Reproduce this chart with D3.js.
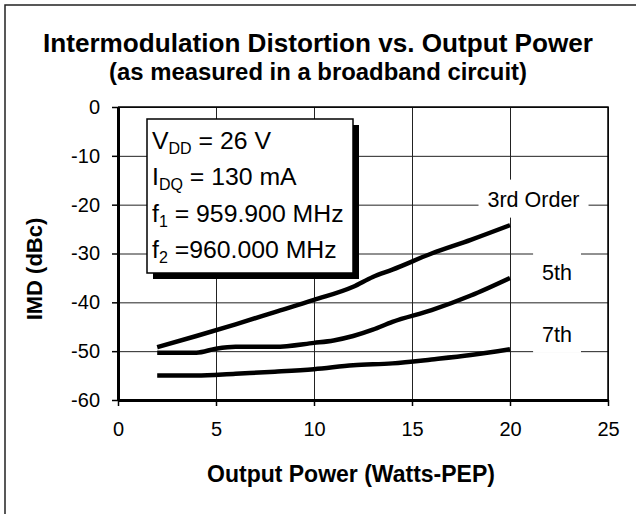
<!DOCTYPE html>
<html>
<head>
<meta charset="utf-8">
<script src="https://cdn.jsdelivr.net/npm/d3@7"></script>
<style>
  body { margin: 0; background: #fff; }
  svg text { font-family: "Liberation Sans", Arial, sans-serif; fill: #000; }
</style>
</head>
<body>
<div class="chart-container"></div>
<script>
//! DATA
const xTicks = [0, 5, 10, 15, 20, 25];
const yTicks = [0, -10, -20, -30, -40, -50, -60];

const thirdPower = [2, 4, 6, 8, 10, 12, 13, 14, 16, 18, 20];
const thirdImd = [-49.2, -46.9, -44.5, -42.0, -39.5, -36.8, -34.8, -33.3, -30.0, -27.2, -24.2];

const fifthPower = [2, 4, 5, 6, 8, 10, 11, 12, 13, 14, 16, 18, 20];
const fifthImd = [-50.3, -50.3, -49.5, -49.1, -49.1, -48.3, -47.8, -46.9, -45.6, -44.0, -41.6, -38.6, -35.0];

const seventhPower = [2, 4, 6, 8, 10, 12, 14, 16, 18, 20];
const seventhImd = [-55.0, -55.0, -54.6, -54.2, -53.7, -52.9, -52.5, -51.7, -50.8, -49.6];

const seriesNames = ['3rd Order', '5th', '7th'];

//! CONSTS
const width = 636;
const height = 514;
const plot = { left: 118, right: 608, top: 107, bottom: 400 };

const svg = d3.select('.chart-container')
  .append('svg')
  .attr('width', width)
  .attr('height', height);

// outer frame (only top + left visible in the picture)
svg.append('path')
  .attr('d', `M5,${height} V5 H${width}`)
  .attr('fill', 'none')
  .attr('stroke', '#222')
  .attr('stroke-width', 1.5);

//! SCALES
const xScale = d3.scaleLinear().domain([0, 25]).range([plot.left, plot.right]);
const yScale = d3.scaleLinear().domain([-60, 0]).range([plot.bottom, plot.top]);

//! GRID
svg.append('g')
  .attr('transform', `translate(0,${plot.bottom})`)
  .call(d3.axisBottom(xScale).tickValues(xTicks).tickSize(-(plot.bottom - plot.top)).tickFormat(''))
  .call(g => g.select('.domain').remove())
  .selectAll('line').attr('stroke', '#222').attr('stroke-width', 1);

svg.append('g')
  .attr('transform', `translate(${plot.left},0)`)
  .call(d3.axisLeft(yScale).tickValues(yTicks).tickSize(-(plot.right - plot.left)).tickFormat(''))
  .call(g => g.select('.domain').remove())
  .selectAll('line').attr('stroke', '#222').attr('stroke-width', 1);

// top + right border of plot area
svg.append('path')
  .attr('d', `M${plot.left},${plot.top} H${plot.right} V${plot.bottom}`)
  .attr('fill', 'none')
  .attr('stroke', '#000')
  .attr('stroke-width', 1.5);

//! AXES
const plainNum = d => String(d); // hyphen minus, like the original

const xAxis = svg.append('g')
  .attr('transform', `translate(0,${plot.bottom})`)
  .call(d3.axisBottom(xScale).tickValues(xTicks).tickFormat(plainNum).tickSize(6).tickSizeOuter(0).tickPadding(16));
xAxis.select('.domain').attr('stroke-width', 3);
xAxis.selectAll('line').attr('stroke-width', 1.5);
xAxis.selectAll('text').attr('font-size', 20).attr('font-family', '"Liberation Sans", Arial, sans-serif');

const yAxis = svg.append('g')
  .attr('transform', `translate(${plot.left},0)`)
  .call(d3.axisLeft(yScale).tickValues(yTicks).tickFormat(plainNum).tickSize(6).tickSizeOuter(0).tickPadding(12));
yAxis.select('.domain').attr('stroke-width', 3);
yAxis.selectAll('line').attr('stroke-width', 1.5);
yAxis.selectAll('text').attr('font-size', 20).attr('font-family', '"Liberation Sans", Arial, sans-serif');

//! LINES
const line = d3.line()
  .x(d => xScale(d[0]))
  .y(d => yScale(d[1]))
  .curve(d3.curveMonotoneX);

const series = [
  d3.zip(thirdPower, thirdImd),
  d3.zip(fifthPower, fifthImd),
  d3.zip(seventhPower, seventhImd)
];

svg.selectAll('.series')
  .data(series)
  .enter()
  .append('path')
  .attr('class', 'series')
  .attr('d', line)
  .attr('fill', 'none')
  .attr('stroke', '#000')
  .attr('stroke-width', 4.5)
  .attr('stroke-linejoin', 'round');

//! SERIES LABELS (white boxes over grid)
const labelPos = [[21.2, -20.4], [22.4, -35.4], [22.4, -48.1]];
seriesNames.forEach((name, i) => {
  const g = svg.append('g');
  const t = g.append('text')
    .attr('x', xScale(labelPos[i][0]))
    .attr('y', yScale(labelPos[i][1]))
    .attr('text-anchor', 'middle')
    .attr('font-size', 21.5)
    .text(name);
  const b = t.node().getBBox();
  g.insert('rect', 'text')
    .attr('x', b.x - 9)
    .attr('y', b.y - 8)
    .attr('width', b.width + 18)
    .attr('height', b.height + 14)
    .attr('fill', '#fff');
});

//! LEGEND BOX
const box = { x: 147, y: 119, w: 206, h: 154 };
svg.append('rect')
  .attr('x', box.x + 6).attr('y', box.y + 6)
  .attr('width', box.w).attr('height', box.h)
  .attr('fill', '#000');
svg.append('rect')
  .attr('x', box.x).attr('y', box.y)
  .attr('width', box.w).attr('height', box.h)
  .attr('fill', '#fff')
  .attr('stroke', '#000')
  .attr('stroke-width', 1.5);

const legendLines = [
  ['V', 'DD', ' = 26 V'],
  ['I', 'DQ', ' = 130 mA'],
  ['f', '1', ' = 959.900 MHz'],
  ['f', '2', ' =960.000 MHz']
];
legendLines.forEach((parts, i) => {
  const t = svg.append('text')
    .attr('x', 152)
    .attr('y', 149 + i * 36.4)
    .attr('font-size', 24.8);
  t.append('tspan').text(parts[0]);
  t.append('tspan').attr('dy', 5).attr('font-size', 16).text(parts[1]);
  t.append('tspan').attr('dy', -5).text(parts[2]);
});

//! TITLES
svg.append('text')
  .attr('x', 318).attr('y', 52)
  .attr('text-anchor', 'middle')
  .attr('font-size', 25)
  .attr('font-weight', 'bold')
  .attr('textLength', 550)
  .attr('lengthAdjust', 'spacingAndGlyphs')
  .text('Intermodulation Distortion vs. Output Power');

svg.append('text')
  .attr('x', 318).attr('y', 80)
  .attr('text-anchor', 'middle')
  .attr('font-size', 23)
  .attr('font-weight', 'bold')
  .attr('textLength', 418)
  .attr('lengthAdjust', 'spacingAndGlyphs')
  .text('(as measured in a broadband circuit)');

svg.append('text')
  .attr('x', 351).attr('y', 482)
  .attr('text-anchor', 'middle')
  .attr('font-size', 23)
  .attr('font-weight', 'bold')
  .text('Output Power (Watts-PEP)');

svg.append('text')
  .attr('transform', 'translate(42,269) rotate(-90)')
  .attr('text-anchor', 'middle')
  .attr('font-size', 22)
  .attr('font-weight', 'bold')
  .text('IMD (dBc)');
</script>
</body>
</html>
